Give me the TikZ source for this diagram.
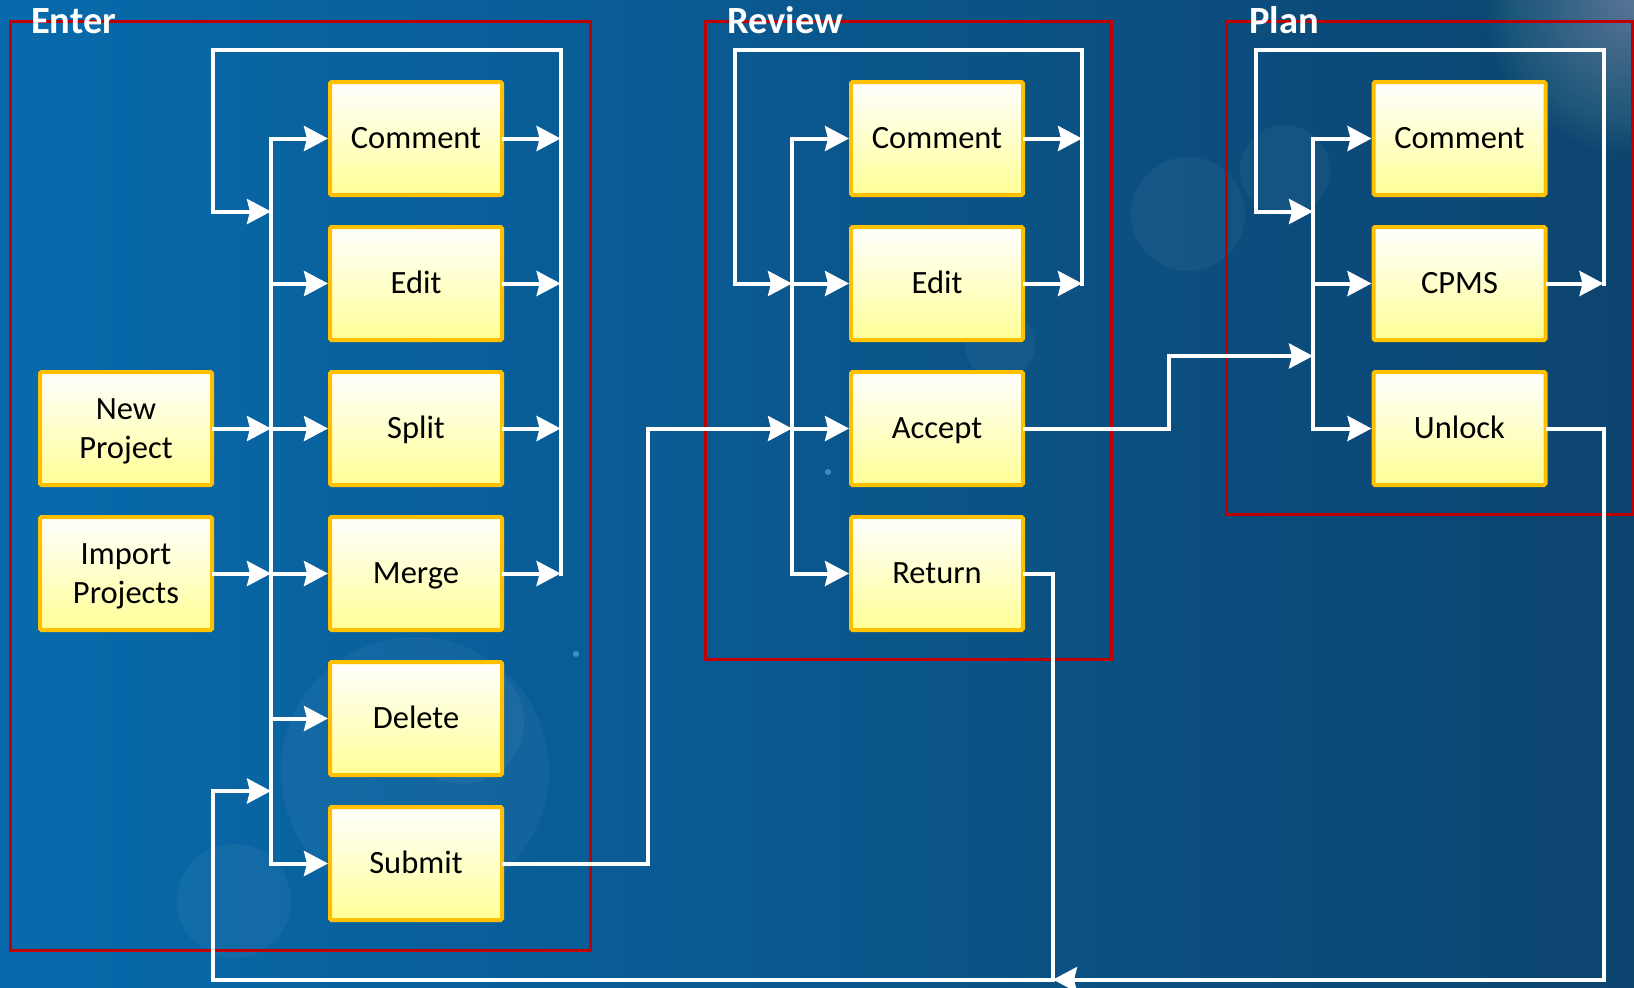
\documentclass[tikz,border=0pt]{standalone}
\usepackage{fontspec}
\setmainfont{Carlito}
\usetikzlibrary{arrows.meta}
\definecolor{bgL}{RGB}{8,106,172}
\definecolor{bgR}{RGB}{12,68,110}
\definecolor{frameRed}{RGB}{192,0,0}
\definecolor{boxGold}{RGB}{255,192,0}
\definecolor{boxYel}{RGB}{255,255,150}
\tikzset{
  boxbase/.style={draw=boxGold, line width=4pt, top color=white, bottom color=boxYel,
    minimum width=172pt, minimum height=113pt, inner sep=0pt, align=center,
    text=black, rounded corners=1.5pt, font=\fontsize{32.5}{38.5}\selectfont},
  box/.style={boxbase, text height=20pt, text depth=0pt},
  box2/.style={boxbase, text depth=0pt},
  frame/.style={draw=frameRed, line width=3pt},
  title/.style={text=white, inner sep=0pt, anchor=base west, font=\fontsize{38.5}{44}\selectfont\bfseries},
  flow/.style={draw=white, line width=4pt, line cap=rect},
  arr/.style={flow, -{Stealth[length=24pt,width=25pt,inset=3pt]}},
  glow/.style={fill=white, fill opacity=0.045},
}
\begin{document}
\begin{tikzpicture}[x=1pt,y=-1pt]
% background
\fill[left color=bgL, right color=bgR] (0,0) rectangle (1634,988);
\useasboundingbox (0,0) rectangle (1634,988);
% faint bokeh decorations
\fill[glow] (415,771) circle (134);
\fill[glow] (462,722) circle (62);
\fill[glow] (234,901) circle (57);
\fill[glow] (1188,214) circle (57);
\fill[glow] (1000,345) circle (35);
\fill[glow] (1285,170) circle (45);
\foreach \r in {150,146,...,6} \fill[white, fill opacity=0.012] (1634,5) circle (\r);
\fill[cyan!60!white, fill opacity=0.5] (828,472) circle (3);
\fill[cyan!60!white, fill opacity=0.5] (576,654) circle (3);

% frames
\draw[frame] (10.4,21.9) rectangle (590,950.4);
\draw[frame] (705.5,21.9) rectangle (1111,659.7);
\draw[frame] (1226.6,21.9) rectangle (1632,514.8);

% ---------- Enter ----------
\node[box2] (enew) at (126,428.5) {New\\Project};
\node[box2] (eimp) at (126,573.5) {Import\\Projects};
\node[box] (ecom) at (416,138.5) {Comment};
\node[box] (eedt) at (416,283.5) {Edit};
\node[box] (espl) at (416,428.5) {Split};
\node[box] (emer) at (416,573.5) {Merge};
\node[box] (edel) at (416,718.5) {Delete};
\node[box] (esub) at (416,863.5) {Submit};

% ---------- Review ----------
\node[box] (rcom) at (937,138.5) {Comment};
\node[box] (redt) at (937,283.5) {Edit};
\node[box] (racc) at (937,428.5) {Accept};
\node[box] (rret) at (937,573.5) {Return};

% ---------- Plan ----------
\node[box] (pcom) at (1459.5,138.5) {Comment};
\node[box] (pcpm) at (1459.5,283.5) {CPMS};
\node[box] (punl) at (1459.5,428.5) {Unlock};

% coordinates
\coordinate (ebT) at (271,138.5);
\coordinate (ebB) at (271,863.5);
\coordinate (eIn) at (271,211.5);
\coordinate (eIn2) at (271,791);
\coordinate (eRT) at (560.6,50);
\coordinate (eLT) at (212.6,50);
\coordinate (sX) at (648,428.5);
\coordinate (rbT) at (792,138.5);
\coordinate (rbB) at (792,573.5);
\coordinate (rRT) at (1082,50);
\coordinate (rLT) at (735,50);
\coordinate (aX) at (1169,356);
\coordinate (pbT) at (1313,138.5);
\coordinate (pbB) at (1313,428.5);
\coordinate (pIn) at (1313,356);
\coordinate (pIn2) at (1313,211.5);
\coordinate (pRT) at (1603.5,50);
\coordinate (pLT) at (1256,50);
\coordinate (uX) at (1603.5,979.6);
\coordinate (bot) at (1053,979.6);
\coordinate (botL) at (212.6,979.6);

% Enter bus and branches
\draw[flow] (ebT) -- (ebB);
\foreach \n in {ecom,eedt,espl,emer,edel,esub} \draw[arr] (ebT |- \n) -- (\n);
\draw[arr] (enew) -- (enew -| ebT);
\draw[arr] (eimp) -- (eimp -| ebT);
\foreach \n in {ecom,eedt,espl,emer} \draw[arr] (\n) -- (\n -| eRT);
\draw[arr] (eRT |- emer) -- (eRT) -- (eLT) |- (eIn);

% Submit to Review
\draw[arr] (esub) -| (sX) -- (sX -| rbT);

% Review bus and branches
\draw[flow] (rbT) -- (rbB);
\foreach \n in {rcom,redt,racc,rret} \draw[arr] (rbT |- \n) -- (\n);
\foreach \n in {rcom,redt} \draw[arr] (\n) -- (\n -| rRT);
\draw[arr] (rRT |- redt) -- (rRT) -- (rLT) |- (redt -| rbT);

% Accept to Plan
\draw[arr] (racc) -| (aX) -- (pIn);

% Plan bus and branches
\draw[flow] (pbT) -- (pbB);
\foreach \n in {pcom,pcpm,punl} \draw[arr] (pbT |- \n) -- (\n);
\draw[arr] (pcpm) -- (pcpm -| pRT);
\draw[arr] (pRT |- pcpm) -- (pRT) -- (pLT) |- (pIn2);

% Return and Unlock loops
\draw[arr] (rret) -| (bot) -- (botL) |- (eIn2);
\draw[arr] (punl) -| (uX) -- (bot);

% titles
\node[title] (tEnter) at (31,33) {Enter};
\node[title] (tReview) at (727,33) {Review};
\node[title] (tPlan) at (1249,33) {Plan};
\end{tikzpicture}
\end{document}
